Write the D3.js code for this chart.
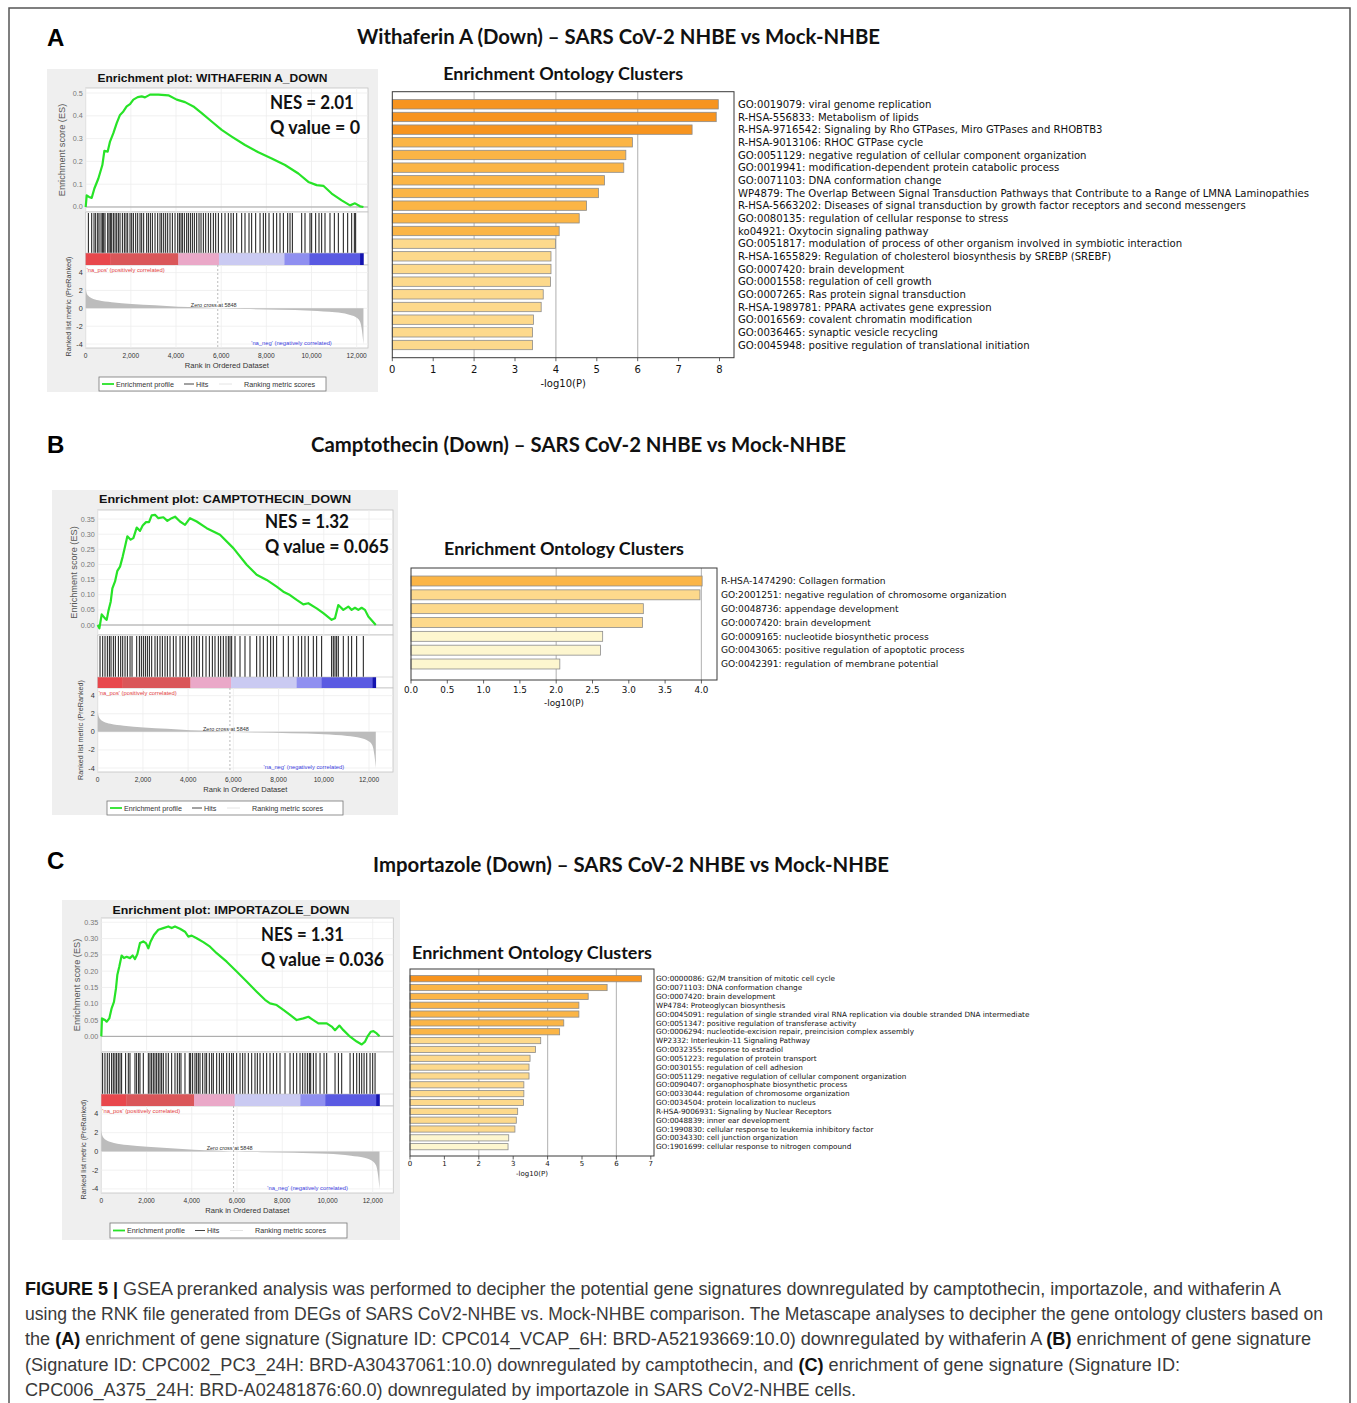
<!DOCTYPE html>
<html>
<head>
<meta charset="utf-8">
<script src="https://cdn.jsdelivr.net/npm/d3@7"></script>
<style>
  body { margin: 0; background: #fff; }
  svg { display: block; }
</style>
</head>
<body>
<div id="chart-area"></div>
<script>
// ---------------- data ----------------
const panelLetters = ["A", "B", "C"];
const panelTitles = [
  "Withaferin A (Down) – SARS CoV-2 NHBE vs Mock-NHBE",
  "Camptothecin (Down) – SARS CoV-2 NHBE vs Mock-NHBE",
  "Importazole (Down) – SARS CoV-2 NHBE vs Mock-NHBE"
];
const gseaTitles = [
  "Enrichment plot: WITHAFERIN A_DOWN",
  "Enrichment plot: CAMPTOTHECIN_DOWN",
  "Enrichment plot: IMPORTAZOLE_DOWN"
];
const nesValues = ["2.01", "1.32", "1.31"];
const qValues = ["0", "0.065", "0.036"];

const listLength = 12300;
const zeroCross = 5848;
const rankTicks = [0, 2000, 4000, 6000, 8000, 10000, 12000];
const metricTicks = [4, 2, 0, -2, -4];
const esTicksA = [0, 0.1, 0.2, 0.3, 0.4, 0.5];
const esTicksBC = [0, 0.05, 0.1, 0.15, 0.2, 0.25, 0.3, 0.35];

// ranked list metric (same RNK file for all three)
const metricProfile = [
  [0, 2.26], [44, 1.7], [118, 1.4], [266, 1.13], [561, 0.9], [1151, 0.68],
  [2037, 0.49], [3070, 0.34], [4103, 0.19], [5000, 0.11], [5848, 0],
  [7055, -0.08], [8531, -0.15], [10007, -0.26], [11040, -0.45], [11631, -0.68],
  [11950, -0.98], [12150, -1.5], [12240, -2.6], [12300, -4.0]
];
const colorBandEdges = [0, 1100, 4100, 5900, 8800, 9900, 12150, 12300];

// running enrichment score [rank, ES]
const esWithaferin = [
  [0, 0], [44, 0.051], [148, 0.044], [266, 0.04], [384, 0.081], [561, 0.125],
  [738, 0.184], [827, 0.246], [974, 0.243], [1077, 0.287], [1225, 0.324],
  [1373, 0.368], [1520, 0.404], [1668, 0.419], [1815, 0.441], [1963, 0.451],
  [2111, 0.471], [2303, 0.482], [2480, 0.485], [2627, 0.481], [2849, 0.493],
  [3218, 0.493], [3661, 0.49], [4030, 0.471], [4399, 0.46], [4768, 0.441],
  [5137, 0.412], [5579, 0.375], [6022, 0.338], [6465, 0.309], [7055, 0.272],
  [7646, 0.24], [8236, 0.213], [8827, 0.184], [9417, 0.147], [9860, 0.11],
  [10229, 0.096], [10524, 0.093], [10893, 0.059], [11336, 0.029], [11705, 0.007],
  [11926, 0.016], [12150, 0.003], [12300, 0]
];
const hitsWithaferin = [
  118, 266, 369, 443, 531, 590, 679, 738, 797, 856, 974, 1033, 1092, 1151, 1225,
  1299, 1373, 1446, 1520, 1624, 1712, 1786, 1860, 1963, 2037, 2111, 2214, 2303,
  2406, 2480, 2568, 2701, 2775, 2863, 2952, 3070, 3188, 3291, 3365, 3454, 3542,
  3631, 3734, 3838, 3956, 4074, 4148, 4221, 4280, 4369, 4472, 4546, 4635, 4723,
  4812, 4915, 5018, 5107, 5210, 5314, 5432, 5535, 5653, 5756, 5875, 6022, 6170,
  6317, 6435, 6539, 6686, 6908, 7055, 7232, 7350, 7528, 7720, 7867, 7970, 8118,
  8310, 8458, 8605, 8753, 8945, 9048, 9152, 9565, 9712, 9933, 10007, 10184,
  10332, 10450, 10598, 10819, 11011, 11188, 11410, 11602, 11779, 11897, 11956
];

const esCamptothecin = [
  [0, 0], [74, -0.011], [177, 0.035], [324, 0.022], [398, 0.017], [472, 0.046],
  [575, 0.077], [649, 0.121], [767, 0.144], [870, 0.179], [988, 0.193],
  [1106, 0.226], [1209, 0.259], [1312, 0.293], [1459, 0.282], [1577, 0.287],
  [1725, 0.322], [1872, 0.311], [1990, 0.329], [2137, 0.34], [2270, 0.34],
  [2388, 0.362], [2535, 0.364], [2683, 0.353], [2904, 0.356], [3081, 0.344],
  [3272, 0.353], [3420, 0.358], [3641, 0.342], [3862, 0.331], [4083, 0.353],
  [4378, 0.342], [4820, 0.32], [5410, 0.298], [6000, 0.254], [6589, 0.199],
  [7031, 0.166], [7473, 0.149], [7915, 0.127], [8210, 0.11], [8505, 0.099],
  [8800, 0.083], [9094, 0.068], [9315, 0.072], [9684, 0.055], [9979, 0.039],
  [10347, 0.017], [10495, 0.022], [10642, 0.066], [10863, 0.05], [11084, 0.061],
  [11232, 0.05], [11379, 0.057], [11527, 0.05], [11674, 0.057], [11821, 0.05],
  [11969, 0.028], [12300, 0]
];
const hitsCamptothecin = [
  103, 221, 324, 427, 516, 590, 693, 781, 914, 1017, 1106, 1209, 1312, 1430,
  1518, 1725, 1843, 1931, 2019, 2108, 2196, 2285, 2388, 2535, 2638, 2756, 2860,
  2977, 3081, 3199, 3346, 3464, 3641, 3759, 3877, 4009, 4157, 4260, 4378, 4496,
  4643, 4791, 4938, 5071, 5188, 5336, 5439, 5557, 5675, 5778, 5852, 5925, 6073,
  6294, 6515, 6736, 7031, 7178, 7326, 7503, 7650, 7768, 7915, 8210, 8431, 8652,
  8873, 9021, 9168, 9316, 9537, 9684, 9905, 10347, 10421, 10495, 10569, 10642,
  10863, 11084, 11232, 11453, 11748
];

const esImportazole = [
  [0, 0], [29, 0.055], [162, 0.05], [236, 0.045], [354, 0.055], [457, 0.086],
  [560, 0.106], [649, 0.147], [708, 0.188], [796, 0.214], [899, 0.248],
  [1002, 0.24], [1120, 0.244], [1268, 0.24], [1386, 0.248], [1489, 0.237],
  [1592, 0.252], [1710, 0.286], [1857, 0.291], [1975, 0.286], [2079, 0.27],
  [2182, 0.291], [2329, 0.311], [2521, 0.327], [2742, 0.332], [2963, 0.337],
  [3111, 0.332], [3258, 0.337], [3479, 0.33], [3700, 0.321], [3848, 0.306],
  [3995, 0.309], [4216, 0.301], [4511, 0.289], [4806, 0.275], [5101, 0.255],
  [5543, 0.229], [5985, 0.199], [6427, 0.168], [6870, 0.137], [7238, 0.112],
  [7459, 0.101], [7754, 0.096], [8049, 0.081], [8344, 0.066], [8639, 0.05],
  [8934, 0.055], [9155, 0.06], [9376, 0.05], [9597, 0.04], [9966, 0.04],
  [10187, 0.03], [10334, 0.019], [10526, 0.033], [10703, 0.019], [10998, -0.001],
  [11293, -0.016], [11514, -0.025], [11662, -0.016], [11765, -0.001],
  [11912, 0.014], [12030, 0.016], [12177, 0.009], [12300, 0]
];
const hitsImportazole = [
  59, 162, 265, 354, 457, 531, 604, 678, 752, 826, 899, 1076, 1194, 1268, 1489,
  1563, 1651, 1710, 1857, 2079, 2152, 2226, 2300, 2373, 2447, 2521, 2595, 2668,
  2742, 2860, 2963, 3111, 3258, 3361, 3450, 3523, 3700, 3892, 3951, 4039, 4142,
  4216, 4290, 4364, 4482, 4585, 4658, 4776, 4880, 4953, 5101, 5219, 5322, 5396,
  5543, 5661, 5764, 5838, 5985, 6133, 6251, 6354, 6501, 6649, 6796, 6899, 7017,
  7165, 7312, 7459, 7607, 7754, 7902, 8123, 8344, 8491, 8639, 8786, 8904, 9008,
  9111, 9199, 9258, 9376, 9494, 9671, 9848, 9966, 10334, 10482, 10629, 10998,
  11145, 11293, 11410, 11514, 11617, 11735, 11882, 12000, 12103
];

// Metascape enrichment ontology clusters
const termsWithaferin = [
  "GO:0019079: viral genome replication",
  "R-HSA-556833: Metabolism of lipids",
  "R-HSA-9716542: Signaling by Rho GTPases, Miro GTPases and RHOBTB3",
  "R-HSA-9013106: RHOC GTPase cycle",
  "GO:0051129: negative regulation of cellular component organization",
  "GO:0019941: modification-dependent protein catabolic process",
  "GO:0071103: DNA conformation change",
  "WP4879: The Overlap Between Signal Transduction Pathways that Contribute to a Range of LMNA Laminopathies",
  "R-HSA-5663202: Diseases of signal transduction by growth factor receptors and second messengers",
  "GO:0080135: regulation of cellular response to stress",
  "ko04921: Oxytocin signaling pathway",
  "GO:0051817: modulation of process of other organism involved in symbiotic interaction",
  "R-HSA-1655829: Regulation of cholesterol biosynthesis by SREBP (SREBF)",
  "GO:0007420: brain development",
  "GO:0001558: regulation of cell growth",
  "GO:0007265: Ras protein signal transduction",
  "R-HSA-1989781: PPARA activates gene expression",
  "GO:0016569: covalent chromatin modification",
  "GO:0036465: synaptic vesicle recycling",
  "GO:0045948: positive regulation of translational initiation"
];
const logpWithaferin = [7.97, 7.92, 7.33, 5.87, 5.71, 5.66, 5.19, 5.04, 4.75, 4.57,
  4.08, 3.99, 3.88, 3.88, 3.87, 3.69, 3.64, 3.45, 3.43, 3.43];

const termsCamptothecin = [
  "R-HSA-1474290: Collagen formation",
  "GO:2001251: negative regulation of chromosome organization",
  "GO:0048736: appendage development",
  "GO:0007420: brain development",
  "GO:0009165: nucleotide biosynthetic process",
  "GO:0043065: positive regulation of apoptotic process",
  "GO:0042391: regulation of membrane potential"
];
const logpCamptothecin = [4.01, 3.98, 3.2, 3.19, 2.64, 2.61, 2.05];

const termsImportazole = [
  "GO:0000086: G2/M transition of mitotic cell cycle",
  "GO:0071103: DNA conformation change",
  "GO:0007420: brain development",
  "WP4784: Proteoglycan biosynthesis",
  "GO:0045091: regulation of single stranded viral RNA replication via double stranded DNA intermediate",
  "GO:0051347: positive regulation of transferase activity",
  "GO:0006294: nucleotide-excision repair, preincision complex assembly",
  "WP2332: Interleukin-11 Signaling Pathway",
  "GO:0032355: response to estradiol",
  "GO:0051223: regulation of protein transport",
  "GO:0030155: regulation of cell adhesion",
  "GO:0051129: negative regulation of cellular component organization",
  "GO:0090407: organophosphate biosynthetic process",
  "GO:0033044: regulation of chromosome organization",
  "GO:0034504: protein localization to nucleus",
  "R-HSA-9006931: Signaling by Nuclear Receptors",
  "GO:0048839: inner ear development",
  "GO:1990830: cellular response to leukemia inhibitory factor",
  "GO:0034330: cell junction organization",
  "GO:1901699: cellular response to nitrogen compound"
];
const logpImportazole = [6.73, 5.73, 5.18, 4.91, 4.91, 4.47, 4.35, 3.8, 3.65, 3.49,
  3.46, 3.46, 3.31, 3.31, 3.3, 3.13, 3.09, 3.05, 2.87, 2.85];

const captionLines = [
  [["FIGURE 5 |", true], [" GSEA preranked analysis was performed to decipher the potential gene signatures downregulated by camptothecin, importazole, and withaferin A", false]],
  [["using the RNK file generated from DEGs of SARS CoV2-NHBE vs. Mock-NHBE comparison. The Metascape analyses to decipher the gene ontology clusters based on", false]],
  [["the ", false], ["(A)", true], [" enrichment of gene signature (Signature ID: CPC014_VCAP_6H: BRD-A52193669:10.0) downregulated by withaferin A ", false], ["(B)", true], [" enrichment of gene signature", false]],
  [["(Signature ID: CPC002_PC3_24H: BRD-A30437061:10.0) downregulated by camptothecin, and ", false], ["(C)", true], [" enrichment of gene signature (Signature ID:", false]],
  [["CPC006_A375_24H: BRD-A02481876:60.0) downregulated by importazole in SARS CoV2-NHBE cells.", false]]
];

// ---------------- layout ----------------
const bandColors = ["#e8474c", "#da5659", "#eaa8c8", "#cacaf2", "#8f8ff0", "#5a5ae2", "#1414b0"];
const barColor = d3.scaleThreshold().domain([3, 4, 6])
  .range(["#fdf6cf", "#fdd98c", "#fbb546", "#f7941f"]);
const titleFont = "Lato, 'Open Sans', sans-serif";
const barFont = "'DejaVu Sans', sans-serif";

const svg = d3.select("#chart-area").append("svg")
  .attr("width", 1357).attr("height", 1403)
  .style("font-family", "'Liberation Sans', Arial, sans-serif");

function fit(sel, w) {
  return sel.attr("textLength", w).attr("lengthAdjust", "spacingAndGlyphs");
}

// outer frame
svg.append("rect").attr("x", 9).attr("y", 8).attr("width", 1341).attr("height", 1420)
  .attr("fill", "none").attr("stroke", "#555").attr("stroke-width", 1.5);

// panel letters and headings
const headLayout = [
  { letterY: 46, titleY: 44, titleX: 618.5, titleW: 523 },
  { letterY: 453, titleY: 452, titleX: 578.5, titleW: 535 },
  { letterY: 869, titleY: 872, titleX: 631, titleW: 516 }
];
headLayout.forEach((h, i) => {
  svg.append("text").attr("x", 47).attr("y", h.letterY)
    .attr("font-size", 24).attr("font-weight", "bold").attr("fill", "#000")
    .text(panelLetters[i]);
  fit(svg.append("text").attr("x", h.titleX).attr("y", h.titleY).attr("text-anchor", "middle")
    .style("font-family", titleFont).attr("font-size", 20).attr("font-weight", "bold").attr("fill", "#111")
    .text(panelTitles[i]), h.titleW);
});

// ---------------- GSEA enrichment plots ----------------
const gseaLayouts = [
  { box: [47, 69, 331, 323], titleY: 82, titleW: 230, left: 85.7, right: 368, rankMax: 12502,
    esT: 88, esB: 212, esDomain: [-0.022, 0.522], hitB: 253, barB: 265, rkB: 348,
    leg: [99, 377, 227, 14], nesX: 270, nesY: 108.5, nesW: 84, qW: 90, esFmt: ".1f" },
  { box: [52, 490, 346, 325], titleY: 503, titleW: 252, left: 97.7, right: 393, rankMax: 13061,
    esT: 510, esB: 635, esDomain: [-0.033, 0.38], hitB: 677, barB: 688, rkB: 772,
    leg: [107, 801, 236, 14], nesX: 265, nesY: 527.5, nesW: 84, qW: 124, esFmt: ".2f" },
  { box: [62, 900, 338, 340], titleY: 914, titleW: 237, left: 101.3, right: 393.3, rankMax: 12910,
    esT: 918, esB: 1052, esDomain: [-0.048, 0.363], hitB: 1094, barB: 1106, rkB: 1193,
    leg: [110, 1223, 237, 15], nesX: 261, nesY: 940.5, nesW: 83, qW: 123, esFmt: ".2f" }
];
const gseaData = [
  { es: esWithaferin, hits: hitsWithaferin, esTicks: esTicksA },
  { es: esCamptothecin, hits: hitsCamptothecin, esTicks: esTicksBC },
  { es: esImportazole, hits: hitsImportazole, esTicks: esTicksBC }
];

function drawGsea(L, d, i) {
  const g = svg.append("g");
  const [bx, by, bw, bh] = L.box;
  g.append("rect").attr("x", bx).attr("y", by).attr("width", bw).attr("height", bh).attr("fill", "#efefef");

  fit(g.append("text").attr("x", bx + bw / 2).attr("y", L.titleY).attr("text-anchor", "middle")
    .attr("font-size", 11.5).attr("font-weight", "bold").attr("fill", "#111")
    .text(gseaTitles[i]), L.titleW);

  const x = d3.scaleLinear().domain([0, L.rankMax]).range([L.left, L.right]);
  const yEs = d3.scaleLinear().domain(L.esDomain).range([L.esB, L.esT]);
  const yRk = d3.scaleLinear().domain([-4.44, 4.85]).range([L.rkB, L.barB]);
  const w = L.right - L.left;

  // white plot panels
  [[L.esT, L.esB], [L.esB, L.barB], [L.barB, L.rkB]].forEach(([t, b]) => {
    g.append("rect").attr("x", L.left).attr("y", t).attr("width", w).attr("height", b - t)
      .attr("fill", "#fff").attr("stroke", "#c4c4c4").attr("stroke-width", 0.8);
  });

  // grid lines
  const grid = g.append("g").attr("stroke", "#eeeeee").attr("stroke-width", 0.8);
  grid.selectAll(".gx1").data(rankTicks).join("line")
    .attr("x1", r => x(r)).attr("x2", r => x(r)).attr("y1", L.esT).attr("y2", L.esB);
  grid.selectAll(".gx2").data(rankTicks).join("line")
    .attr("x1", r => x(r)).attr("x2", r => x(r)).attr("y1", L.barB).attr("y2", L.rkB);
  grid.selectAll(".gy1").data(d.esTicks).join("line")
    .attr("x1", L.left).attr("x2", L.right).attr("y1", v => yEs(v)).attr("y2", v => yEs(v));
  grid.selectAll(".gy2").data(metricTicks).join("line")
    .attr("x1", L.left).attr("x2", L.right).attr("y1", v => yRk(v)).attr("y2", v => yRk(v));

  // ES zero line
  g.append("line").attr("x1", L.left).attr("x2", L.right).attr("y1", yEs(0)).attr("y2", yEs(0))
    .attr("stroke", "#9a9a9a").attr("stroke-width", 0.9);

  // running enrichment score
  g.append("path").datum(d.es)
    .attr("d", d3.line().x(p => x(p[0])).y(p => yEs(p[1])))
    .attr("fill", "none").attr("stroke", "#27e327").attr("stroke-width", 2.2)
    .attr("stroke-linejoin", "round");

  // hits
  g.append("g").selectAll("line").data(d.hits).join("line")
    .attr("x1", r => x(r)).attr("x2", r => x(r)).attr("y1", L.esB + 1).attr("y2", L.hitB)
    .attr("stroke", "#151515").attr("stroke-width", 1);

  // ranked list colour bar
  g.append("g").selectAll("rect").data(d3.pairs(colorBandEdges)).join("rect")
    .attr("x", p => x(p[0])).attr("width", p => x(p[1]) - x(p[0]) + 0.3)
    .attr("y", L.hitB).attr("height", L.barB - L.hitB)
    .attr("fill", (p, k) => bandColors[k]);
  g.append("line").attr("x1", L.left).attr("x2", L.right).attr("y1", L.hitB).attr("y2", L.hitB)
    .attr("stroke", "#c4c4c4").attr("stroke-width", 0.6);

  // ranked metric area
  g.append("path").datum(metricProfile)
    .attr("d", d3.area().x(p => x(p[0])).y0(yRk(0)).y1(p => yRk(p[1])).curve(d3.curveMonotoneX))
    .attr("fill", "#bcbcbc");

  // zero cross
  g.append("line").attr("x1", x(zeroCross)).attr("x2", x(zeroCross)).attr("y1", L.barB).attr("y2", L.rkB)
    .attr("stroke", "#aaa").attr("stroke-width", 0.8).attr("stroke-dasharray", "2,2");
  g.append("text").attr("x", x(zeroCross) - 4).attr("y", yRk(0) - 1).attr("text-anchor", "middle")
    .attr("font-size", 5.5).attr("fill", "#333").text("Zero cross at " + zeroCross);
  g.append("text").attr("x", L.left + 1).attr("y", L.barB + 6.5)
    .attr("font-size", 5.8).attr("fill", "#e23d3d").text("'na_pos' (positively correlated)");
  g.append("text").attr("x", x(10900)).attr("y", L.rkB - 3.5).attr("text-anchor", "end")
    .attr("font-size", 5.8).attr("fill", "#3d3de0").text("'na_neg' (negatively correlated)");

  // tick labels
  const fmt = d3.format(L.esFmt);
  g.append("g").selectAll("text").data(d.esTicks).join("text")
    .attr("x", L.left - 3).attr("y", v => yEs(v) + 2.5).attr("text-anchor", "end")
    .attr("font-size", 7.2).attr("fill", "#777").text(v => fmt(v));
  g.append("g").selectAll("text").data(metricTicks).join("text")
    .attr("x", L.left - 3).attr("y", v => yRk(v) + 2.5).attr("text-anchor", "end")
    .attr("font-size", 7.2).attr("fill", "#333").text(v => v);
  g.append("g").selectAll("text").data(rankTicks).join("text")
    .attr("x", r => x(r)).attr("y", L.rkB + 10).attr("text-anchor", "middle")
    .attr("font-size", 6.6).attr("fill", "#333").text(d3.format(","));

  // axis titles
  g.append("text").attr("x", (L.left + L.right) / 2).attr("y", L.rkB + 20).attr("text-anchor", "middle")
    .attr("font-size", 7.6).attr("fill", "#333").text("Rank in Ordered Dataset");
  g.append("text").attr("transform", `translate(${L.left - 21},${(L.esT + L.esB) / 2}) rotate(-90)`)
    .attr("text-anchor", "middle").attr("font-size", 9.2).attr("fill", "#555")
    .text("Enrichment score (ES)");
  g.append("text").attr("transform", `translate(${L.left - 15},${(L.barB + L.rkB) / 2}) rotate(-90)`)
    .attr("text-anchor", "middle").attr("font-size", 7.2).attr("fill", "#444")
    .text("Ranked list metric (PreRanked)");

  // legend
  const [lx, ly, lw, lh] = L.leg;
  const lg = g.append("g");
  lg.append("rect").attr("x", lx).attr("y", ly).attr("width", lw).attr("height", lh)
    .attr("fill", "#fff").attr("stroke", "#777").attr("stroke-width", 0.8);
  const cy = ly + lh / 2;
  const items = [
    { x0: 3, x1: 15, tx: 17, color: "#27e327", sw: 1.8, label: "Enrichment profile" },
    { x0: 85, x1: 95, tx: 97, color: "#444", sw: 1, label: "Hits" },
    { x0: 120, x1: 133, tx: 145, color: "#e4e4e4", sw: 1, label: "Ranking metric scores" }
  ];
  items.forEach(it => {
    lg.append("line").attr("x1", lx + it.x0).attr("x2", lx + it.x1).attr("y1", cy).attr("y2", cy)
      .attr("stroke", it.color).attr("stroke-width", it.sw);
    lg.append("text").attr("x", lx + it.tx).attr("y", cy + 2.6)
      .attr("font-size", 7.2).attr("fill", "#333").text(it.label);
  });

  // NES / Q value
  fit(g.append("text").attr("x", L.nesX).attr("y", L.nesY)
    .style("font-family", titleFont).attr("font-size", 18).attr("font-weight", "bold").attr("fill", "#111")
    .text("NES = " + nesValues[i]), L.nesW);
  fit(g.append("text").attr("x", L.nesX).attr("y", L.nesY + 25)
    .style("font-family", titleFont).attr("font-size", 18).attr("font-weight", "bold").attr("fill", "#111")
    .text("Q value = " + qValues[i]), L.qW);
}

gseaLayouts.forEach((L, i) => drawGsea(L, gseaData[i], i));

// ---------------- Metascape bar charts ----------------
const barLayouts = [
  { left: 392.3, right: 734, unit: 40.9, frameT: 91.7, frameB: 357.7, firstC: 104.3, lastC: 345,
    pad: 0.26, labelX: 738, labelSize: 10.1, tickSize: 10, ticks: [0, 1, 2, 3, 4, 5, 6, 7, 8],
    grid: [2, 4, 6], fmt: "d", titleY: 80, tickDy: 15, axisDy: 29 },
  { left: 411, right: 717, unit: 72.6, frameT: 568, frameB: 680, firstC: 581, lastC: 664,
    pad: 0.28, labelX: 721, labelSize: 9.1, tickSize: 8.8, ticks: [0, 0.5, 1, 1.5, 2, 2.5, 3, 3.5, 4],
    grid: [2, 4], fmt: ".1f", titleY: 555, tickDy: 13, axisDy: 26 },
  { left: 410, right: 654, unit: 34.4, frameT: 969, frameB: 1156, firstC: 978.7, lastC: 1146.7,
    pad: 0.3, labelX: 656, labelSize: 7.25, tickSize: 7, ticks: [0, 1, 2, 3, 4, 5, 6, 7],
    grid: [2, 4, 6], fmt: "d", titleY: 959, tickDy: 10, axisDy: 20 }
];
const barData = [
  { terms: termsWithaferin, values: logpWithaferin },
  { terms: termsCamptothecin, values: logpCamptothecin },
  { terms: termsImportazole, values: logpImportazole }
];

function drawBars(L, d) {
  const g = svg.append("g").style("font-family", barFont);
  const x = d3.scaleLinear().domain([0, (L.right - L.left) / L.unit]).range([L.left, L.right]);
  const step = (L.lastC - L.firstC) / (d.terms.length - 1);
  const y = d3.scaleBand().domain(d.terms)
    .range([L.firstC - step / 2, L.lastC + step / 2])
    .paddingInner(L.pad).paddingOuter(L.pad / 2);

  fit(g.append("text").attr("x", (L.left + L.right) / 2).attr("y", L.titleY).attr("text-anchor", "middle")
    .style("font-family", titleFont).attr("font-size", 16.5).attr("font-weight", "bold").attr("fill", "#111")
    .text("Enrichment Ontology Clusters"), 240);

  g.append("g").selectAll("line").data(L.grid).join("line")
    .attr("x1", v => x(v)).attr("x2", v => x(v)).attr("y1", L.frameT).attr("y2", L.frameB)
    .attr("stroke", "#bdbdbd").attr("stroke-width", 1.2);

  g.append("g").selectAll("rect").data(d.values).join("rect")
    .attr("x", x(0)).attr("y", (v, k) => y(d.terms[k]))
    .attr("width", v => x(v) - x(0)).attr("height", y.bandwidth())
    .attr("fill", v => barColor(v)).attr("stroke", "#8c8c8c").attr("stroke-width", 0.8);

  g.append("rect").attr("x", L.left).attr("y", L.frameT)
    .attr("width", L.right - L.left).attr("height", L.frameB - L.frameT)
    .attr("fill", "none").attr("stroke", "#3a3a3a").attr("stroke-width", 1);

  g.append("g").selectAll("text").data(d.terms).join("text")
    .attr("x", L.labelX).attr("y", t => y(t) + y.bandwidth() / 2 + L.labelSize * 0.36)
    .attr("font-size", L.labelSize).attr("fill", "#111").text(t => t);

  const fmt = d3.format(L.fmt);
  g.append("g").selectAll("line").data(L.ticks).join("line")
    .attr("x1", v => x(v)).attr("x2", v => x(v)).attr("y1", L.frameB).attr("y2", L.frameB + 3.5)
    .attr("stroke", "#3a3a3a").attr("stroke-width", 0.8);
  g.append("g").selectAll("text").data(L.ticks).join("text")
    .attr("x", v => x(v)).attr("y", L.frameB + L.tickDy).attr("text-anchor", "middle")
    .attr("font-size", L.tickSize).attr("fill", "#111").text(v => fmt(v));
  g.append("text").attr("x", (L.left + L.right) / 2).attr("y", L.frameB + L.axisDy)
    .attr("text-anchor", "middle").attr("font-size", L.tickSize).attr("fill", "#111").text("-log10(P)");
}

barLayouts.forEach((L, i) => drawBars(L, barData[i]));

// ---------------- caption ----------------
const captionWidths = [1256, 1298, 1286, 1155, 831];
const cap = svg.append("g").style("font-family", "'Liberation Sans Narrow', 'Liberation Sans', Arial, sans-serif");
captionLines.forEach((parts, i) => {
  const t = cap.append("text").attr("x", 25).attr("y", 1295 + i * 25.2)
    .attr("font-size", 18).attr("fill", "#3a3a3a");
  parts.forEach(([s, b]) => {
    t.append("tspan").attr("font-weight", b ? "bold" : "normal").attr("fill", b ? "#111" : "#3a3a3a").text(s);
  });
  fit(t, captionWidths[i]);
});
</script>
</body>
</html>
